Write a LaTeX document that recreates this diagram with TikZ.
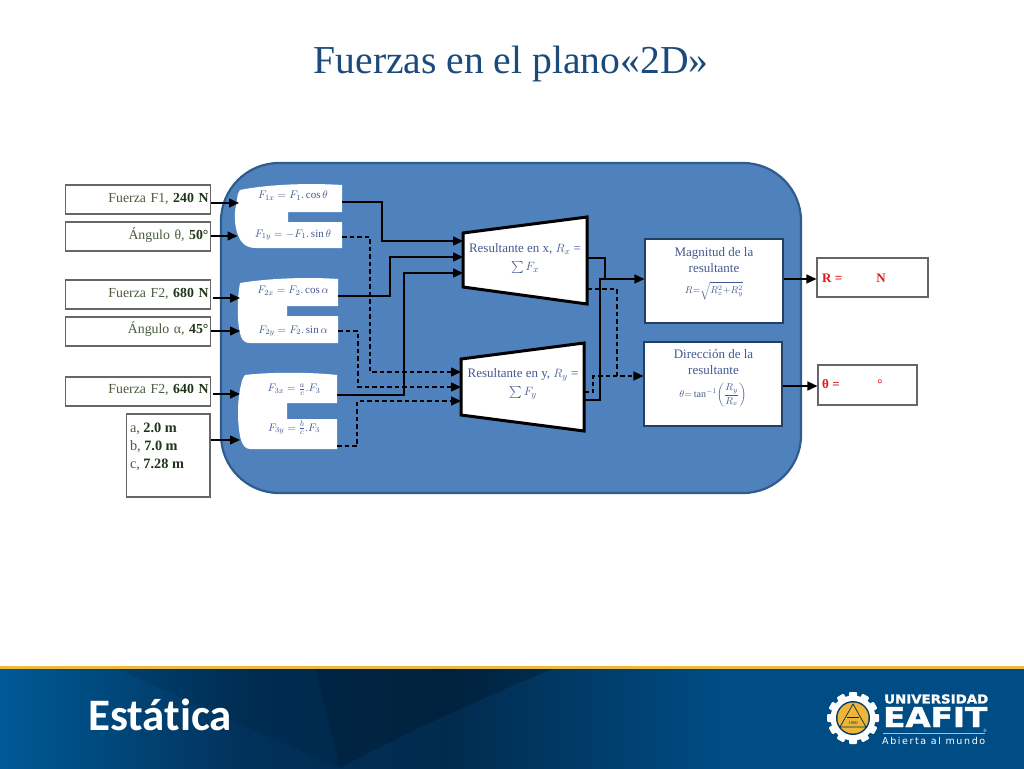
\documentclass[tikz,border=0pt]{standalone}
\usepackage{fontspec}
\usepackage{amsmath}
\setmainfont{Liberation Serif}
\newfontfamily\carl[Ligatures=NoCommon]{Carlito}
\newfontfamily\dejab{DejaVu Sans}
\newfontfamily\dejaheavy[FakeBold=1.6]{DejaVu Sans Bold}
\usetikzlibrary{arrows.meta,calc}
\definecolor{panelfill}{HTML}{4F81BD}
\definecolor{paneledge}{HTML}{2F5C8F}
\definecolor{titleblue}{HTML}{1B4A7C}
\definecolor{mathblue}{HTML}{44598F}
\definecolor{oliveT}{HTML}{4C5C3E}
\definecolor{darkT}{HTML}{1F3518}
\definecolor{redT}{HTML}{E01818}
\definecolor{goldL}{HTML}{EDB83E}
\definecolor{bandA}{HTML}{005A96}
\definecolor{bandM}{HTML}{013059}
\definecolor{bandB}{HTML}{012B4E}
\definecolor{bandC}{HTML}{004C84}
\newcommand{\vl}[1]{\textcolor{darkT}{\textbf{#1}}}
\tikzset{
  inbox/.style={draw=black!60,line width=1.1pt,fill=white,inner sep=0pt,minimum width=145pt,
    text width=141pt,align=right,text height=17pt,text depth=12pt,font=\fontsize{13.8}{15}\selectfont,text=oliveT},
  outbox/.style={draw=black!60,line width=1.1pt,fill=white,inner sep=0pt,minimum height=39pt},
  resbox/.style={draw=paneledge!70!black,line width=1.1pt,fill=white,inner sep=0pt,minimum width=138pt,minimum height=84pt},
  blockshape/.style={fill=white,draw=none},
  trapshape/.style={fill=white,draw=black,line width=3pt,line join=miter},
  mathlab/.style={text=mathblue,inner sep=0pt,font=\fontsize{11}{13}\selectfont},
  mathsmall/.style={text=mathblue,inner sep=0pt,font=\fontsize{10}{12}\selectfont},
  trapt/.style={text=mathblue,inner sep=0pt,align=center,font=\fontsize{13}{18}\selectfont},
  rest/.style={text=mathblue,inner sep=0pt,align=center,font=\fontsize{13}{16}\selectfont},
  redt/.style={text=redT,inner sep=0pt,font=\fontsize{13}{15}\selectfont\bfseries},
  conn/.style={draw=black,line width=1.5pt,-{Triangle[length=10pt,width=9pt]}},
  plainconn/.style={draw=black,line width=1.5pt},
  dashconn/.style={draw=black,line width=1.5pt,dash pattern=on 4.5pt off 3pt},
  dasharr/.style={dashconn,-{Triangle[length=10pt,width=9pt]}},
}
\begin{document}
\begin{tikzpicture}[x=1pt,y=-1pt]
\useasboundingbox (0,0) rectangle (1024,768);
\fill[white] (0,0) rectangle (1024,768);

\node[inner sep=0pt,text=titleblue,font=\fontsize{39.6}{44}\selectfont] (title) at (511,64) {Fuerzas en el plano«2D»};

% panel
\node[draw=paneledge,line width=2.2pt,fill=panelfill,rounded corners=58pt,minimum width=580pt,minimum height=330pt,inner sep=0pt] (panel) at (511,328) {};

% blocks
\fill[blockshape] (240,190) .. controls (270,184) and (310,183) .. (342,185) -- (342,212) -- (288,212) -- (288,222) -- (342,222) -- (342,248) -- (256,248) .. controls (246,248) and (241,243) .. (238,235) .. controls (234,225) and (234,212) .. (237,200) .. controls (237.5,195) and (238,192) .. (240,190) -- cycle;
\fill[blockshape] (240,283) .. controls (270,278) and (310,277) .. (338,279) -- (338,306) -- (287,306) -- (287,316) -- (338,316) -- (338,343) -- (250,343) .. controls (243,343) and (241,338) .. (240,333) .. controls (237,320) and (237,300) .. (240,283) -- cycle;
\fill[blockshape] (245,375) .. controls (270,372) and (310,372) .. (337,375) -- (337,403) -- (287,403) -- (287,419) -- (337,419) -- (337,449) -- (250,449) .. controls (245,449) and (243,445) .. (241,440) .. controls (237,425) and (237,400) .. (241,385) .. controls (242,380) and (243,377) .. (245,375) -- cycle;

\node[mathlab] (f1x) at (293,196) {$F_{1x}=F_1.\cos\theta$};
\node[mathlab] (f1y) at (293,235) {$F_{1y}=-F_1.\sin\theta$};
\node[mathlab] (f2x) at (293,291) {$F_{2x}=F_2.\cos\alpha$};
\node[mathlab] (f2y) at (293,331) {$F_{2y}=F_2.\sin\alpha$};
\node[mathlab] (f3x) at (294,390) {$F_{3x}=\frac{a}{c}.F_3$};
\node[mathlab] (f3y) at (294,428) {$F_{3y}=\frac{b}{c}.F_3$};

% trapezoids
\coordinate (tAin1) at (463,241);
\coordinate (tAin2) at (463,257);
\coordinate (tAin3) at (463,273);
\coordinate (tBin1) at (461,372);
\coordinate (tBin2) at (461,387);
\coordinate (tBin3) at (461,401);
\coordinate (tAoutS) at (587,258);
\coordinate (tAoutD) at (587,289);
\coordinate (tBoutS) at (584,400);
\coordinate (tBoutD) at (584,392);
\draw[trapshape] (463,233) -- (587,217) -- (587,304) -- (463,287) -- cycle;
\draw[trapshape] (461,359) -- (584,343) -- (584,431) -- (461,415) -- cycle;
\node[trapt] (resx) at (525,258.5) {Resultante en x, $R_x$ =\\$\sum F_x$};
\node[trapt] (resy) at (523,384) {Resultante en y, $R_y$ =\\$\sum F_y$};

% result boxes
\node[resbox] (mag) at (714,281) {};
\node[resbox] (dir) at (713,384) {};
\node[rest] (magt) at (714,260) {Magnitud de la\\resultante};
\node[mathsmall] (magf) at (714,291) {$R{=}\sqrt{R_x^2{+}R_y^2}$};
\node[rest] (dirt) at (713.5,362) {Dirección de la\\resultante};
\node[mathsmall] (dirf) at (713,395) {$\theta{=}\tan^{-1}\!\left(\dfrac{R_y}{R_x}\right)$};

% inputs
\node[inbox] (i1) at (138,199.5) {Fuerza F1, \vl{240 N}};
\node[inbox] (i2) at (138,236.5) {Ángulo θ, \vl{50°}};
\node[inbox] (i3) at (138,294.5) {Fuerza F2, \vl{680 N}};
\node[inbox,text depth=13pt,text height=16pt] (i4) at (138,331.5) {Ángulo α, \vl{45°}};
\node[inbox,text depth=13pt,text height=16pt] (i5) at (138,391.5) {Fuerza F2, \vl{640 N}};
\node[draw=black!60,line width=1.1pt,fill=white,inner sep=0pt,inner xsep=3.5pt,text=oliveT,font=\fontsize{14.3}{18}\selectfont] (i6) at (168.25,455.5)
  {\parbox[c][83pt][t]{76.5pt}{\vspace{8.5pt}\baselineskip=18pt a, \vl{2.0 m}\\ b, \vl{7.0 m}\\ c, \vl{7.28 m}}};

% outputs
\node[outbox,minimum width=111pt] (o1) at (872.5,277.5) {};
\node[outbox,minimum width=99pt,minimum height=40pt] (o2) at (867.5,385) {};
\node[redt,anchor=west] (o1a) at (822,278) {R =};
\node[redt] (o1b) at (881,278) {N};
\node[redt,anchor=west] (o2a) at (822,384) {θ =};
\node[redt] (o2b) at (880,384) {°};

% entry points on blocks
\coordinate (e1) at (239,203);
\coordinate (e2) at (237.5,236);
\coordinate (e3) at (240,298);
\coordinate (e4) at (240,331);
\coordinate (e5) at (240,394);
\coordinate (e6) at (240,440);
\coordinate (x1) at (342,202);
\coordinate (y1) at (342,237);
\coordinate (x2) at (338,296);
\coordinate (y2) at (338,331);
\coordinate (x3) at (337,395);
\coordinate (y3) at (337,446);
\coordinate (oa) at (o1.west |- 0,279);
\coordinate (ob) at (o2.west |- 0,386);

\draw[conn] (i1.east |- e1) -- (e1);
\draw[conn] (i2.east |- e2) -- (e2);
\draw[conn] ($(i3.east |- e3)+(2,0)$) -- (e3);
\draw[conn] (i4.east |- e4) -- (e4);
\draw[conn] ($(i5.east |- e5)+(2,0)$) -- (e5);
\draw[conn] (i6.east |- e6) -- (e6);

\draw[conn] (x1) -- (382,202) -- (382,241) -- (tAin1);
\draw[conn] (x2) -- (390,296) -- (390,257) -- (tAin2);
\draw[conn] (x3) -- (404,395) -- (404,273) -- (tAin3);
\draw[dasharr] (y1) -- (370,237) -- (370,372) -- (tBin1);
\draw[dasharr] (y2) -- (358,331) -- (358,387) -- (tBin2);
\draw[dasharr] (y3) -- (357,446) -- (357,401) -- (tBin3);

\coordinate (magin) at (mag.west |- 0,279);
\coordinate (dirin) at (dir.west |- 0,376);
\draw[conn] (tAoutS) -- (605,258) -- (605,279) -- (magin);
\draw[plainconn] (tBoutS) -- (600,400) -- (600,279) -- (605,279);
\draw[dasharr] (tAoutD) -- (617,289) -- (617,376) -- (dirin);
\draw[dashconn] (tBoutD) -- (593,392) -- (593,376) -- (617,376);

\draw[conn] (mag.east |- oa) -- (oa);
\draw[conn] (dir.east |- ob) -- (ob);

% footer band
\shade[left color=bandA,right color=bandM] (0,668) rectangle (250,770);
\shade[left color=bandM,right color=bandB] (250,668) rectangle (450,770);
\shade[left color=bandB,right color=bandC] (450,668) rectangle (720,770);
\fill[bandC] (720,668) rectangle (1026,770);
\fill[black,opacity=.08] (115,668) -- (340,768) -- (315,668) -- cycle;
\fill[black,opacity=.2] (315,668) -- (340,768) .. controls (420,725) and (490,695) .. (555,668) -- cycle;
\fill[goldL] (0,666) rectangle (1024,668.5);
\node[inner sep=0pt,text=white,font=\carl\bfseries\fontsize{45}{48}\selectfont] (estatica) at (160,715) {Estática};

% logo
\begin{scope}[shift={(853,718)}]
  \foreach \a in {0,30,...,330}{
    \fill[white,rotate=\a,rounded corners=1pt] (-4,-26) rectangle (4,-19);
  }
  \fill[white] (0,0) circle (22.5);
  \fill[bandC!80!black] (0,0) circle (17);
  \fill[goldL!95!orange] (0,0) circle (15.5);
  \draw[bandB,line width=.7pt] (0,-14) -- (-13,9) -- (13,9) -- cycle;
  \draw[bandB,line width=.6pt] (-6,-1) -- (6,-1);
  \node[inner sep=0pt,text=bandB,font=\fontsize{4.5}{5}\selectfont] (yr) at (0,5) {1960};
\end{scope}
\node[inner sep=0pt,anchor=west,text=white] (lg1) at (884,699) {\resizebox{104pt}{9pt}{\dejaheavy UNIVERSIDAD}};
\node[inner sep=0pt,anchor=west,text=white] (lg2) at (883,717) {\resizebox{104pt}{20pt}{\dejaheavy EAFIT}};
\fill[goldL] (883,733) rectangle (985,734.2);
\node[inner sep=0pt,text=white,font=\fontsize{5}{6}\selectfont] (lg3) at (985,730.5) {®};
\node[inner sep=0pt,anchor=west,text=white] (lg4) at (882,741) {\resizebox{103pt}{!}{\dejab\fontsize{10}{12}\selectfont A\,b\,i\,e\,r\,t\,a\ \,a\,l\ \,m\,u\,n\,d\,o}};
\end{tikzpicture}
\end{document}
